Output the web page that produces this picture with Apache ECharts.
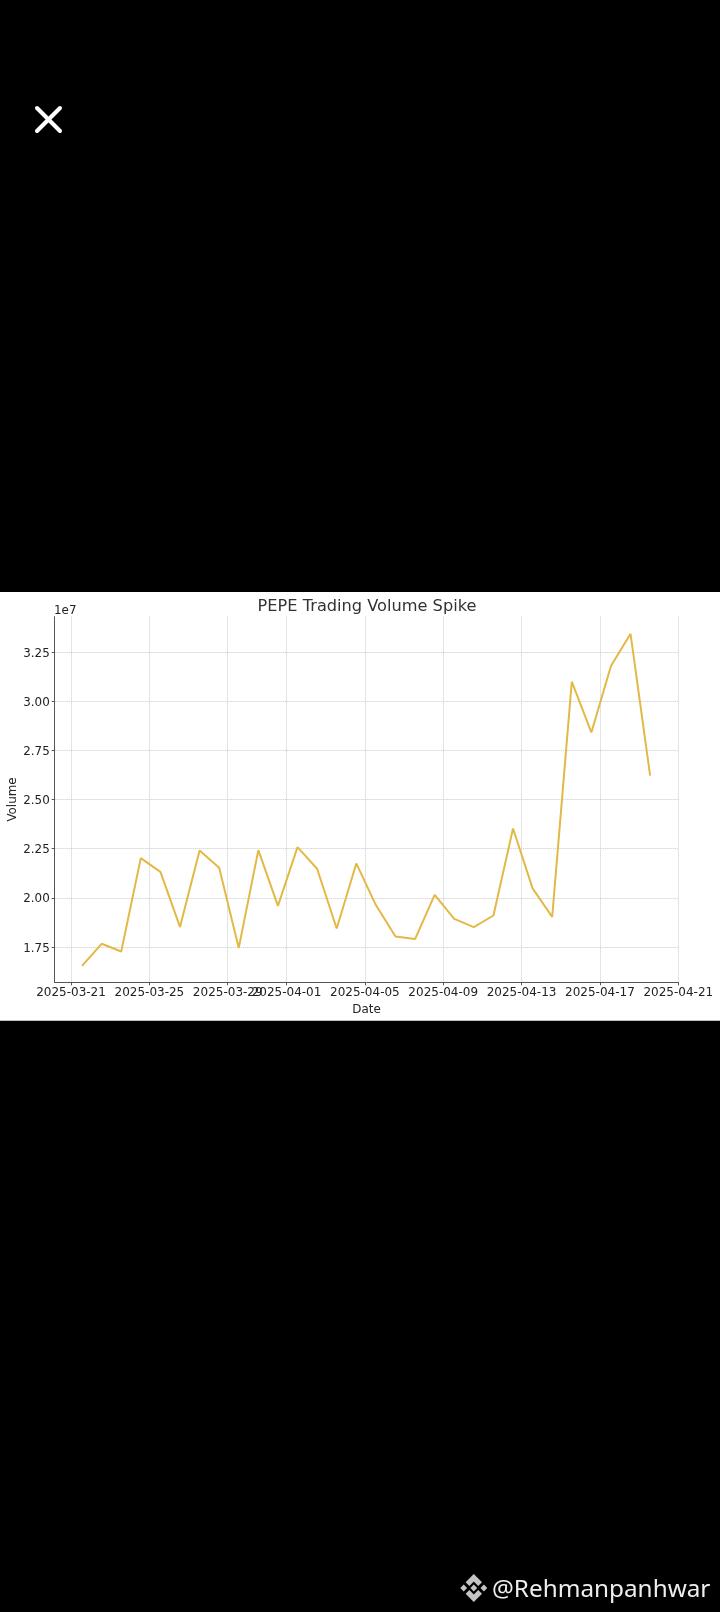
<!DOCTYPE html>
<html>
<head>
<meta charset="utf-8">
<title>PEPE Trading Volume Spike</title>
<style>
  html, body { margin: 0; padding: 0; background: #000; }
  #chart { width: 720px; height: 1612px; }
</style>
</head>
<body>
<div id="chart"></div>
<script src="https://cdn.jsdelivr.net/npm/echarts@6/dist/echarts.min.js"></script>
<script>
let dates = [
  '2025-03-21', '2025-03-22', '2025-03-23', '2025-03-24', '2025-03-25', '2025-03-26',
  '2025-03-27', '2025-03-28', '2025-03-29', '2025-03-30', '2025-03-31', '2025-04-01',
  '2025-04-02', '2025-04-03', '2025-04-04', '2025-04-05', '2025-04-06', '2025-04-07',
  '2025-04-08', '2025-04-09', '2025-04-10', '2025-04-11', '2025-04-12', '2025-04-13',
  '2025-04-14', '2025-04-15', '2025-04-16', '2025-04-17', '2025-04-18', '2025-04-19'
]
let volume = [
  16540000, 17660000, 17270000, 22020000, 21320000, 18520000,
  22410000, 21530000, 17450000, 22430000, 19590000, 22580000,
  21480000, 18440000, 21750000, 19630000, 18030000, 17900000,
  20150000, 18930000, 18510000, 19100000, 23530000, 20480000,
  19030000, 31000000, 28420000, 31800000, 33440000, 26220000
]
let xTicks = [
  '2025-03-21', '2025-03-25', '2025-03-29', '2025-04-01', '2025-04-05',
  '2025-04-09', '2025-04-13', '2025-04-17', '2025-04-21'
]
let yTicks = [17500000, 20000000, 22500000, 25000000, 27500000, 30000000, 32500000]

// points sit a little past midday on each date
let sampleTime = 'T13:30:00Z'
let xMin = '2025-03-20T04:00:00Z'
let xMax = '2025-04-21T00:00:00Z'
let yMin = 15700000
let yMax = 34310000

let font = '"DejaVu Sans", sans-serif'

function toMs(text) {
  return new Date(text).getTime()
}

// the axis is a plain value axis in ms, the time axis breaks on customValues
let xTickValues = xTicks.map(function (d) {
  return toMs(d + 'T00:00:00Z')
})

let chart = echarts.init(document.getElementById('chart'), null, { renderer: 'canvas' })

chart.setOption({
  backgroundColor: '#000',
  animation: false,
  textStyle: { fontFamily: font },
  title: {
    text: 'PEPE Trading Volume Spike',
    left: 362,
    top: 594,
    textAlign: 'center',
    textStyle: { fontFamily: font, fontSize: 16.2, fontWeight: 'normal', color: '#333' }
  },
  grid: { left: 54.7, top: 616.7, right: 41.7, bottom: 629.7, containLabel: false, outerBoundsMode: 'none' },
  tooltip: { trigger: 'axis' },
  xAxis: {
    type: 'value',
    min: toMs(xMin),
    max: toMs(xMax),
    name: 'Date',
    nameLocation: 'middle',
    nameMoveOverlap: false,
    nameGap: 21.5,
    nameTextStyle: { fontFamily: font, fontSize: 11.9, color: '#222' },
    axisLine: { lineStyle: { color: '#555', width: 1 } },
    axisTick: { show: true, customValues: xTickValues, length: 3, lineStyle: { color: '#555' } },
    axisLabel: {
      customValues: xTickValues,
      hideOverlap: false,
      margin: 5,
      fontFamily: font,
      fontSize: 12,
      color: '#222',
      formatter: function (v) {
        return new Date(v).toISOString().slice(0, 10)
      }
    },
    splitLine: { show: true, lineStyle: { color: '#c8c8c8', width: 1, type: [1, 1] } }
  },
  yAxis: {
    type: 'value',
    min: yMin,
    max: yMax,
    name: 'Volume',
    nameLocation: 'middle',
    nameMoveOverlap: false,
    nameGap: 36,
    nameTextStyle: { fontFamily: font, fontSize: 11.9, color: '#222' },
    axisLine: { show: true, lineStyle: { color: '#555', width: 1 } },
    axisTick: { show: true, customValues: yTicks, length: 3, lineStyle: { color: '#555' } },
    axisLabel: {
      customValues: yTicks,
      margin: 5,
      // nudges the digits down onto the tick
      verticalAlign: 'top',
      lineHeight: 3,
      fontFamily: font,
      fontSize: 11.9,
      color: '#222',
      formatter: function (v) {
        return (v / 1e7).toFixed(2)
      }
    },
    splitLine: { show: true, lineStyle: { color: '#c8c8c8', width: 1, type: [1, 1] } }
  },
  series: [{
    name: 'Volume',
    type: 'line',
    symbol: 'none',
    smooth: false,
    lineStyle: { color: '#e3b945', width: 2 },
    itemStyle: { color: '#e3b945' },
    data: dates.map(function (d, i) {
      return [toMs(d + sampleTime), volume[i]]
    })
  }],
  graphic: [
    // white plate behind the plot
    { type: 'rect', z: -10, silent: true, shape: { x: 0, y: 592, width: 720, height: 428.7 }, style: { fill: '#fff' } },
    { type: 'text', x: 54, y: 605, style: { text: '1e7', fontFamily: font, fontSize: 11.9, fill: '#222' } },
    // close button
    { type: 'line', shape: { x1: 37, y1: 108, x2: 60, y2: 131 }, style: { stroke: '#fff', lineWidth: 4, lineCap: 'round' } },
    { type: 'line', shape: { x1: 60, y1: 108, x2: 37, y2: 131 }, style: { stroke: '#fff', lineWidth: 4, lineCap: 'round' } },
    // watermark logo
    { type: 'polygon', shape: { points: [[473.8, 1574], [482, 1582.2], [478.2, 1586], [473.8, 1581.6], [469.4, 1586], [465.6, 1582.2]] }, style: { fill: '#c4c4c4' } },
    { type: 'polygon', shape: { points: [[473.8, 1602], [482, 1593.8], [478.2, 1590], [473.8, 1594.4], [469.4, 1590], [465.6, 1593.8]] }, style: { fill: '#c4c4c4' } },
    { type: 'polygon', shape: { points: [[473.8, 1584.6], [477.2, 1588], [473.8, 1591.4], [470.4, 1588]] }, style: { fill: '#c4c4c4' } },
    { type: 'polygon', shape: { points: [[463.7, 1584.6], [467.1, 1588], [463.7, 1591.4], [460.3, 1588]] }, style: { fill: '#c4c4c4' } },
    { type: 'polygon', shape: { points: [[483.9, 1584.6], [487.3, 1588], [483.9, 1591.4], [480.5, 1588]] }, style: { fill: '#c4c4c4' } },
    {
      type: 'text',
      x: 492,
      y: 1578,
      style: { text: '@Rehmanpanhwar', fontFamily: '"Noto Sans", sans-serif', fontSize: 24.3, fill: '#eee' }
    }
  ]
})
</script>
</body>
</html>
